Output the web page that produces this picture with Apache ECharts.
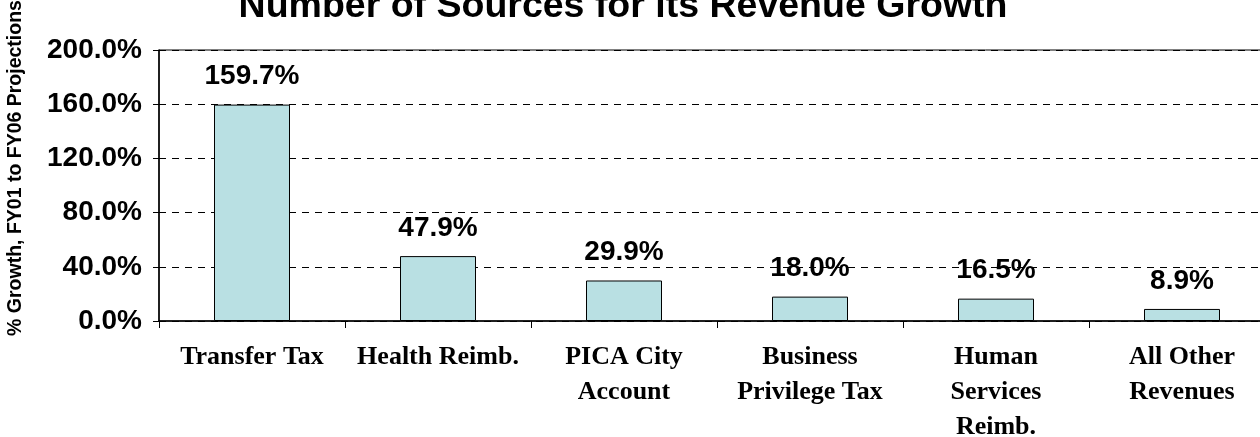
<!DOCTYPE html>
<html>
<head>
<meta charset="UTF-8">
<script src="https://cdn.jsdelivr.net/npm/echarts@6/dist/echarts.min.js"></script>
<style>
  body { margin: 0; background: #fff; overflow: hidden; }
  #chart { width: 1260px; height: 437px; }
</style>
</head>
<body>
<div id="chart"></div>
<script>
// Revenue sources (wrapped as in the original)
const categories = [
  'Transfer Tax',
  'Health Reimb.',
  'PICA City\nAccount',
  'Business\nPrivilege Tax',
  'Human\nServices\nReimb.',
  'All Other\nRevenues'
]

// % growth FY01 -> FY06
const growth = [159.7, 47.9, 29.9, 18.0, 16.5, 8.9]

const chart = echarts.init(document.getElementById('chart'))

chart.setOption({
  animation: false,
  title: {
    text: 'Number of Sources for its Revenue Growth',
    left: 618,
    textAlign: 'center',
    top: -17,
    textStyle: { fontFamily: 'Liberation Sans', fontWeight: 'bold', fontSize: 37.5, color: '#000' }
  },
  // rotated y-axis title, placed by hand like the original
  graphic: [{
    type: 'text',
    x: 6,
    y: 168,
    rotation: Math.PI / 2,
    style: {
      text: '% Growth, FY01 to FY06 Projections',
      font: 'bold 19.5px "Liberation Sans"',
      fill: '#000',
      align: 'center',
      verticalAlign: 'top'
    }
  }],
  grid: {
    left: 159, right: -15, top: 50, bottom: 116,
    outerBoundsMode: 'none',
    show: true, borderColor: '#000', borderWidth: 1
  },
  xAxis: {
    type: 'category',
    data: categories,
    axisLine: { lineStyle: { color: '#000', width: 1.5 } },
    axisTick: { show: true, length: 7, lineStyle: { color: '#000' } },
    axisLabel: {
      interval: 0,
      margin: 19,
      color: '#000',
      fontFamily: 'Liberation Serif',
      fontWeight: 'bold',
      fontSize: 26,
      lineHeight: 35
    }
  },
  yAxis: {
    type: 'value',
    min: 0,
    max: 200,
    interval: 40,
    axisLine: { show: true, lineStyle: { color: '#000', width: 1.5 } },
    axisTick: { show: true, length: 6, lineStyle: { color: '#000' } },
    splitLine: { lineStyle: { color: '#000', type: [7, 6], width: 1 } },
    axisLabel: {
      margin: 17,
      color: '#000',
      fontFamily: 'Liberation Sans',
      fontWeight: 'bold',
      fontSize: 28,
      formatter: v => v.toFixed(1) + '%'
    }
  },
  series: [{
    type: 'bar',
    data: growth,
    barWidth: 76,
    itemStyle: { color: '#B9E0E3', borderColor: '#000', borderWidth: 1 },
    label: {
      show: true,
      position: 'top',
      distance: 14,
      color: '#000',
      fontFamily: 'Liberation Sans',
      fontWeight: 'bold',
      fontSize: 28,
      formatter: p => p.value.toFixed(1) + '%'
    }
  }]
})
</script>
</body>
</html>
